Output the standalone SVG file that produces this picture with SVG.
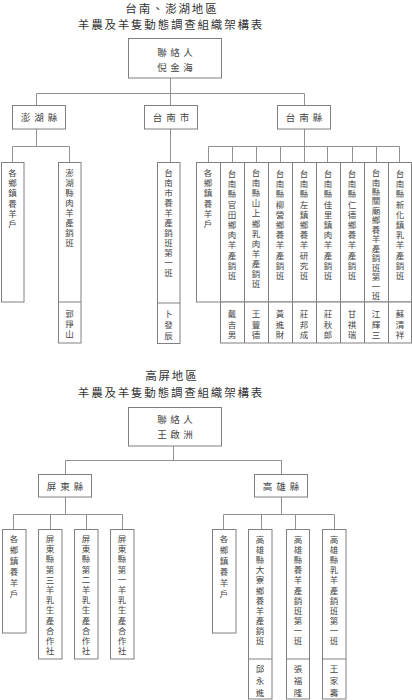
<svg xmlns="http://www.w3.org/2000/svg" width="412" height="700" viewBox="0 0 412 700">
<style>
.box{fill:#fff;stroke:#808080;stroke-width:1}
.conn line{stroke:#909090;stroke-width:1}
.div{stroke:#808080;stroke-width:1}
text{font-family:"Noto Sans CJK TC","Noto Sans CJK SC",sans-serif;fill:#444;text-anchor:middle;dominant-baseline:central}
.ti{font-size:11.5px;fill:#333}
.hd{font-size:9.5px}
.v{font-size:8.5px}
</style>
<rect width="412" height="700" fill="#fff"/>
<!-- Titles -->
<text class="ti" x="131.1 144.4 157.7 171 184.3 197.6 210.9" y="8">台南、澎湖地區</text>
<text class="ti" x="83.6 96.9 110.2 123.5 136.8 150.1 163.4 176.7 190 203.3 216.6 229.9 243.2 256.5" y="24">羊農及羊隻動態調查組織架構表</text>
<text class="ti" x="151 164.3 177.6 190.9" y="375">高屏地區</text>
<text class="ti" x="83.6 96.9 110.2 123.5 136.8 150.1 163.4 176.7 190 203.3 216.6 229.9 243.2 256.5" y="392">羊農及羊隻動態調查組織架構表</text>

<g class="conn">
<line x1="170.5" y1="78" x2="170.5" y2="93.5"/>
<line x1="36.5" y1="93.5" x2="304.5" y2="93.5"/>
<line x1="36.5" y1="93.5" x2="36.5" y2="105"/>
<line x1="170.5" y1="93.5" x2="170.5" y2="105"/>
<line x1="304.5" y1="93.5" x2="304.5" y2="105"/>
<line x1="36.5" y1="129" x2="36.5" y2="146.5"/>
<line x1="12.5" y1="146.5" x2="69.5" y2="146.5"/>
<line x1="12.5" y1="146.5" x2="12.5" y2="162"/>
<line x1="69.5" y1="146.5" x2="69.5" y2="162"/>
<line x1="170.5" y1="129" x2="170.5" y2="162"/>
<line x1="304.5" y1="129" x2="304.5" y2="146.5"/>
<line x1="208.5" y1="146.5" x2="399.5" y2="146.5"/>
<line x1="208.5" y1="146.5" x2="208.5" y2="162"/>
<line x1="232.5" y1="146.5" x2="232.5" y2="162"/>
<line x1="256.5" y1="146.5" x2="256.5" y2="162"/>
<line x1="280.5" y1="146.5" x2="280.5" y2="162"/>
<line x1="327.5" y1="146.5" x2="327.5" y2="162"/>
<line x1="352.5" y1="146.5" x2="352.5" y2="162"/>
<line x1="376.5" y1="146.5" x2="376.5" y2="162"/>
<line x1="399.5" y1="146.5" x2="399.5" y2="162"/>
<line x1="304.5" y1="146.5" x2="304.5" y2="162"/>
<!-- bottom -->
<line x1="173.5" y1="446" x2="173.5" y2="460.5"/>
<line x1="65.5" y1="460.5" x2="281.5" y2="460.5"/>
<line x1="65.5" y1="460.5" x2="65.5" y2="474"/>
<line x1="281.5" y1="460.5" x2="281.5" y2="474"/>
<line x1="65.5" y1="497" x2="65.5" y2="514.5"/>
<line x1="13.5" y1="514.5" x2="122.5" y2="514.5"/>
<line x1="13.5" y1="514.5" x2="13.5" y2="529"/>
<line x1="50.5" y1="514.5" x2="50.5" y2="529"/>
<line x1="86.5" y1="514.5" x2="86.5" y2="529"/>
<line x1="122.5" y1="514.5" x2="122.5" y2="529"/>
<line x1="281.5" y1="497" x2="281.5" y2="514.5"/>
<line x1="223.5" y1="514.5" x2="334.5" y2="514.5"/>
<line x1="223.5" y1="514.5" x2="223.5" y2="529"/>
<line x1="261.5" y1="514.5" x2="261.5" y2="529"/>
<line x1="295.5" y1="514.5" x2="295.5" y2="529"/>
<line x1="334.5" y1="514.5" x2="334.5" y2="529"/>
</g>

<!-- Top section nodes -->
<g id="contact-top">
<rect class="box" x="128.5" y="38.5" width="93" height="39.5"/>
<text class="hd" x="162 175 188" y="52">聯絡人</text>
<text class="hd" x="162 175 188" y="67">倪金海</text>
</g>
<g id="penghu">
<rect class="box" x="12.5" y="105.5" width="53" height="23.5"/>
<text class="hd" x="25.5 39 52.5" y="117">澎湖縣</text>
</g>
<g id="tainan-city">
<rect class="box" x="144.5" y="105.5" width="53" height="23.5"/>
<text class="hd" x="157.5 171 184.5" y="117">台南市</text>
</g>
<g id="tainan-county">
<rect class="box" x="277.5" y="105.5" width="53" height="23.5"/>
<text class="hd" x="290.5 304 317.5" y="117">台南縣</text>
</g>

<g id="penghu-farmers">
<rect class="box" x="1.5" y="162.5" width="22.5" height="139.5"/>
<text class="v" x="12.5 12.5 12.5 12.5 12.5 12.5" y="172 182 192 203 213 223">各鄉鎮養羊戶</text>
</g>
<g id="penghu-group">
<rect class="box" x="58.5" y="162.5" width="22.5" height="180.5"/>
<line class="div" x1="58.5" y1="302" x2="81" y2="302"/>
<text class="v" x="69.5 69.5 69.5 69.5 69.5 69.5 69.5 69.5" y="172 182 192 202 212 222 232 242">澎湖縣肉羊產銷班</text>
<text class="v" x="69.5 69.5 69.5" y="313 323 333">郭掙山</text>
</g>
<g id="tainan-city-group">
<rect class="box" x="157.5" y="162.5" width="22.5" height="181"/>
<line class="div" x1="157.5" y1="303" x2="180" y2="303"/>
<text class="v" x="168.5 168.5 168.5 168.5 168.5 168.5 168.5 168.5 168.5 168.5 168.5" y="172 182 192 202 212 222 232 242 252 262 272">台南市養羊產銷班第一班</text>
<text class="v" x="168.5 168.5 168.5" y="313 324 335">卜發辰</text>
</g>

<g id="tainan-county-groups">
<rect class="box" x="196.5" y="162.5" width="215" height="139.5"/>
<rect class="box" x="220.5" y="302" width="191" height="41"/>
<line class="div" x1="220.5" y1="162.5" x2="220.5" y2="343"/>
<line class="div" x1="244.5" y1="162.5" x2="244.5" y2="343"/>
<line class="div" x1="268.5" y1="162.5" x2="268.5" y2="343"/>
<line class="div" x1="292.5" y1="162.5" x2="292.5" y2="343"/>
<line class="div" x1="316.5" y1="162.5" x2="316.5" y2="343"/>
<line class="div" x1="340.5" y1="162.5" x2="340.5" y2="343"/>
<line class="div" x1="364.5" y1="162.5" x2="364.5" y2="343"/>
<line class="div" x1="388.5" y1="162.5" x2="388.5" y2="343"/>
</g>
<g id="tn-c1">
<text class="v" x="208 208 208 208 208 208" y="172 182 192 203 213 223">各鄉鎮養羊戶</text>
</g>
<g id="tn-c2">
<text class="v" x="232 232 232 232 232 232 232 232 232 232 232" y="173 183 193 204 214 224 234 244 255 265 275">台南縣官田鄉肉羊產銷班</text>
<text class="v" x="232 232 232" y="313 323.5 334">戴吉男</text>
</g>
<g id="tn-c3">
<text class="v" x="256 256 256 256 256 256 256 256 256 256 256 256" y="172 182 192 202 212 223 233 243 253 263 273 283">台南縣山上鄉乳肉羊產銷班</text>
<text class="v" x="256 256 256" y="313 323.5 334">王豐德</text>
</g>
<g id="tn-c4">
<text class="v" x="280 280 280 280 280 280 280 280 280 280 280" y="173 183 193 204 214 224 234 244 255 265 275">台南縣柳營鄉養羊產銷班</text>
<text class="v" x="280 280 280" y="313 323.5 334">黃進財</text>
</g>
<g id="tn-c5">
<text class="v" x="304 304 304 304 304 304 304 304 304 304 304" y="173 183 193 204 214 224 234 244 255 265 275">台南縣左鎮鄉養羊研究班</text>
<text class="v" x="304 304 304" y="313 323.5 334">莊邦成</text>
</g>
<g id="tn-c6">
<text class="v" x="328 328 328 328 328 328 328 328 328 328 328" y="173 183 193 204 214 224 234 244 255 265 275">台南縣佳里鎮肉羊產銷班</text>
<text class="v" x="328 328 328" y="313 323.5 334">莊秋郎</text>
</g>
<g id="tn-c7">
<text class="v" x="352 352 352 352 352 352 352 352 352 352 352" y="173 183 193 204 214 224 234 244 255 265 275">台南縣仁德鄉養羊產銷班</text>
<text class="v" x="352 352 352" y="313 323.5 334">甘祺瑞</text>
</g>
<g id="tn-c8">
<text class="v" x="376 376 376 376 376 376 376 376 376 376 376 376 376 376" y="172 181.5 191 200.4 209.8 219.3 228.8 238.2 247.7 257.1 266.6 276 285.5 295">台南縣關廟鄉養羊產銷班第一班</text>
<text class="v" x="376 376 376" y="313 323.5 334">江輝三</text>
</g>
<g id="tn-c9">
<text class="v" x="400 400 400 400 400 400 400 400 400 400 400" y="173 183 193 204 214 224 234 244 255 265 275">台南縣新化鎮乳羊產銷班</text>
<text class="v" x="400 400 400" y="313 323.5 334">蘇清祥</text>
</g>

<!-- Bottom section nodes -->
<g id="contact-bottom">
<rect class="box" x="128.5" y="407.5" width="93" height="38.5"/>
<text class="hd" x="162 175 188" y="419">聯絡人</text>
<text class="hd" x="162 175 188" y="434">王啟洲</text>
</g>
<g id="pingtung">
<rect class="box" x="38.5" y="474.5" width="53" height="22.5"/>
<text class="hd" x="51.5 65 78.5" y="485.5">屏東縣</text>
</g>
<g id="kaohsiung">
<rect class="box" x="254.5" y="474.5" width="53" height="22.5"/>
<text class="hd" x="267.5 281 294.5" y="485.5">高雄縣</text>
</g>
<g id="pt-farmers">
<rect class="box" x="2.5" y="529.5" width="23.5" height="103.5"/>
<text class="v" x="14 14 14 14 14 14" y="538 549 560 571 582 593">各鄉鎮養羊戶</text>
</g>
<g id="pt-3">
<rect class="box" x="38.5" y="529.5" width="23.5" height="129.5"/>
<text class="v" x="50 50 50 50 50 50 50 50 50 50 50 50" y="538 548.2 558.4 568.6 578.8 589 599.2 609.4 619.6 629.8 640 650.2">屏東縣第三羊乳生產合作社</text>
</g>
<g id="pt-2">
<rect class="box" x="74.5" y="529.5" width="23.5" height="129.5"/>
<text class="v" x="86 86 86 86 86 86 86 86 86 86 86 86" y="538 548.2 558.4 568.6 578.8 589 599.2 609.4 619.6 629.8 640 650.2">屏東縣第二羊乳生產合作社</text>
</g>
<g id="pt-1">
<rect class="box" x="110.5" y="529.5" width="23.5" height="129.5"/>
<text class="v" x="122 122 122 122 122 122 122 122 122 122 122 122" y="538 548.2 558.4 568.6 578.8 589 599.2 609.4 619.6 629.8 640 650.2">屏東縣第一羊乳生產合作社</text>
</g>
<g id="ks-farmers">
<rect class="box" x="212.5" y="529.5" width="23.5" height="103.5"/>
<text class="v" x="224 224 224 224 224 224" y="538 549 560 571 582 593">各鄉鎮養羊戶</text>
</g>
<g id="ks-daliao">
<rect class="box" x="248.5" y="529.5" width="23.5" height="169.5"/>
<line class="div" x1="248.5" y1="659" x2="272" y2="659"/>
<text class="v" x="260 260 260 260 260 260 260 260 260 260 260" y="539 549.1 559.2 569.3 579.4 589.5 599.6 609.7 619.8 629.9 640">高雄縣大寮鄉養羊產銷班</text>
<text class="v" x="260 260 260" y="668 680 692">邱永進</text>
</g>
<g id="ks-sheep">
<rect class="box" x="286.5" y="529.5" width="23" height="169.5"/>
<line class="div" x1="286.5" y1="659" x2="309.5" y2="659"/>
<text class="v" x="298 298 298 298 298 298 298 298 298 298 298" y="539 549.1 559.2 569.3 579.4 589.5 599.6 609.7 619.8 629.9 640">高雄縣養羊產銷班第一班</text>
<text class="v" x="298 298 298" y="668 680 692">張福隆</text>
</g>
<g id="ks-milk">
<rect class="box" x="322.5" y="529.5" width="23.5" height="169.5"/>
<line class="div" x1="322.5" y1="659" x2="346" y2="659"/>
<text class="v" x="334 334 334 334 334 334 334 334 334 334 334" y="539 549.1 559.2 569.3 579.4 589.5 599.6 609.7 619.8 629.9 640">高雄縣乳羊產銷班第一班</text>
<text class="v" x="334 334 334" y="668 680 692">王家壽</text>
</g>
</svg>
